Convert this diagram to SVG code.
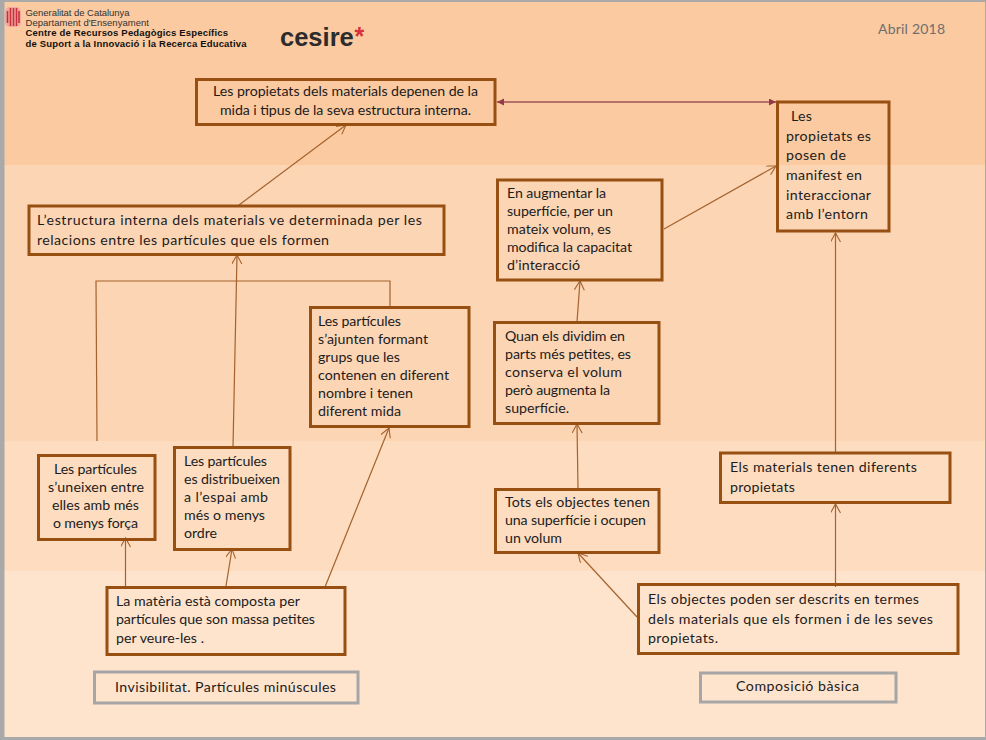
<svg xmlns="http://www.w3.org/2000/svg" width="986" height="740" viewBox="0 0 986 740">
<style>
text{font-family:"Lato","Liberation Sans",sans-serif;font-size:14.2px;fill:#1c1c1c}
.b{fill:none;stroke:#984f12;stroke-width:3}
.g{fill:none;stroke:#a6a6a6;stroke-width:3}
.c{fill:none;stroke:#a5622c;stroke-width:1.2}
.h{font-family:"Liberation Sans",Arial,sans-serif;font-size:9.5px;fill:#333}
.hb{font-family:"Liberation Sans",Arial,sans-serif;font-size:9.5px;font-weight:bold;fill:#111}
</style>
<defs>
<marker id="a" markerWidth="12" markerHeight="12" refX="10" refY="5" orient="auto" markerUnits="userSpaceOnUse"><path d="M1 0L10 5L1 10" fill="none" stroke="#a5622c" stroke-width="1.1"/></marker>
<marker id="d" markerWidth="9" markerHeight="8" refX="7" refY="3.5" orient="auto-start-reverse" markerUnits="userSpaceOnUse"><path d="M0 0L7 3.5L0 7Z" fill="#953a4a"/></marker>
</defs>
<g id="background">
<rect width="986" height="740" fill="#a9a9a9"/>
<rect x="4.500" y="2" width="980.500" height="163" fill="#fbcaa0"/>
<rect x="4.500" y="165" width="980.500" height="276" fill="#fcd5b4"/>
<rect x="4.500" y="441" width="980.500" height="130" fill="#fddcc0"/>
<rect x="4.500" y="571" width="980.500" height="166" fill="#fee3cd"/>
</g>
<g id="header">
<rect x="5" y="7" width="16" height="20" rx="5" fill="#f0a9a0"/>
<path d="M7.500 11V23M10.500 8V26M13.500 8V26M16.500 8V26M19 11V23" stroke="#c9303a" stroke-width="1.600"/>
<text class="h" x="25.500" y="16" textLength="104">Generalitat de Catalunya</text>
<text class="h" x="25.500" y="26" textLength="123.500">Departament d'Ensenyament</text>
<text class="hb" x="25.500" y="36" textLength="202.500">Centre de Recursos Pedagògics Específics</text>
<text class="hb" x="25.500" y="47" textLength="221">de Suport a la Innovació i la Recerca Educativa</text>
<text x="280" y="46" style="font-family:'Liberation Sans',sans-serif;font-size:25.500px;font-weight:bold;fill:#2c2c2c">cesire</text>
<text x="354.500" y="45" style="font-family:'Liberation Sans',sans-serif;font-size:25px;font-weight:bold;fill:#d8303a">*</text>
<text x="878" y="34" style="font-size:14px;fill:#6e6e6e" textLength="67">Abril  2018</text>
</g>
<g id="connectors">
<path class="c" d="M239 205L346 125" marker-end="url(#a)"/>
<path class="c" d="M233 447L237 255" marker-end="url(#a)"/>
<path class="c" d="M97 441L96 281H390V307"/>
<path class="c" d="M125.500 586V538" marker-end="url(#a)"/>
<path class="c" d="M226 586L232 549" marker-end="url(#a)"/>
<path class="c" d="M325 587L389 428" marker-end="url(#a)"/>
<path d="M497 102H776" fill="none" stroke="#a0505a" stroke-width="1.3" marker-start="url(#d)" marker-end="url(#d)"/>
<path class="c" d="M664 229L776 166" marker-end="url(#a)"/>
<path class="c" d="M577 322L580 281" marker-end="url(#a)"/>
<path class="c" d="M578 488L577 424" marker-end="url(#a)"/>
<path class="c" d="M637 617L578 553" marker-end="url(#a)"/>
<path class="c" d="M835.500 452V233" marker-end="url(#a)"/>
<path class="c" d="M835.500 587V504" marker-end="url(#a)"/>
</g>
<g id="n1"><rect class="b" x="196.500" y="79.500" width="298.500" height="45"/>
<text x="213" y="96" textLength="265">Les propietats dels materials depenen de la</text>
<text x="220" y="115" textLength="251">mida i tipus de la seva estructura interna.</text></g>
<g id="n2"><rect class="b" x="777.500" y="102" width="111.500" height="129"/>
<text x="791" y="121" textLength="21">Les</text>
<text x="786" y="141" textLength="85">propietats es</text>
<text x="786" y="160" textLength="60">posen de</text>
<text x="786" y="180" textLength="76">manifest en</text>
<text x="786" y="200" textLength="85">interaccionar</text>
<text x="786" y="219" textLength="82">amb l’entorn</text></g>
<g id="n3"><rect class="b" x="29" y="206" width="415" height="48.500"/>
<text x="37" y="225" textLength="385">L’estructura interna dels materials ve determinada  per les</text>
<text x="37" y="245" textLength="292">relacions entre les partícules que els formen</text></g>
<g id="n4"><rect class="b" x="497.500" y="180" width="164.500" height="100"/>
<text x="507" y="198" textLength="99">En augmentar la</text>
<text x="507" y="216" textLength="106">superfície, per un</text>
<text x="507" y="234" textLength="104">mateix volum, es</text>
<text x="507" y="252" textLength="125">modifica la capacitat</text>
<text x="507" y="270" textLength="73">d’interacció</text></g>
<g id="n5"><rect class="b" x="310.500" y="307.500" width="158.500" height="119"/>
<text x="318" y="326" textLength="83">Les partícules</text>
<text x="318" y="344" textLength="110">s’ajunten formant</text>
<text x="318" y="362" textLength="82">grups que les</text>
<text x="318" y="380" textLength="131">contenen en diferent</text>
<text x="318" y="398" textLength="95">nombre i tenen</text>
<text x="318" y="416" textLength="83">diferent mida</text></g>
<g id="n6"><rect class="b" x="494.500" y="322.500" width="164.500" height="101"/>
<text x="505" y="341" textLength="120">Quan els dividim en</text>
<text x="505" y="359" textLength="126">parts més petites, es</text>
<text x="505" y="377" textLength="117">conserva el  volum</text>
<text x="505" y="395" textLength="105">però augmenta la</text>
<text x="505" y="413" textLength="64">superfície.</text></g>
<g id="n7"><rect class="b" x="38.500" y="455.500" width="116.500" height="84"/>
<text x="54" y="474" textLength="83">Les partícules</text>
<text x="48" y="492" textLength="96">s’uneixen entre</text>
<text x="52" y="510" textLength="87">elles amb més</text>
<text x="53" y="528" textLength="85">o menys força</text></g>
<g id="n8"><rect class="b" x="174.500" y="447.500" width="115.500" height="102"/>
<text x="184" y="466" textLength="83">Les partícules</text>
<text x="184" y="484" textLength="96">es distribueixen</text>
<text x="184" y="502" textLength="84">a l’espai  amb</text>
<text x="184" y="520" textLength="81">més o menys</text>
<text x="184" y="538" textLength="33">ordre</text></g>
<g id="n9"><rect class="b" x="495.500" y="489.500" width="163.500" height="63"/>
<text x="505" y="507" textLength="145">Tots els  objectes tenen</text>
<text x="505" y="525" textLength="141">una superfície i ocupen</text>
<text x="505" y="543" textLength="57">un volum</text></g>
<g id="n10"><rect class="b" x="720.500" y="453" width="229.500" height="49.500"/>
<text x="730" y="472" textLength="187">Els materials tenen  diferents</text>
<text x="730" y="492" textLength="65">propietats</text></g>
<g id="n11"><rect class="b" x="107" y="587.500" width="238" height="67"/>
<text x="116" y="606" textLength="184">La matèria  està composta per</text>
<text x="116" y="624" textLength="199">partícules que son massa petites</text>
<text x="116" y="643" textLength="88">per veure-les .</text></g>
<g id="n12"><rect class="b" x="638.500" y="584.500" width="319.500" height="69"/>
<text x="648" y="604" textLength="271">Els objectes  poden  ser descrits en termes</text>
<text x="648" y="624" textLength="285">dels materials que  els formen  i de les seves</text>
<text x="648" y="643" textLength="70">propietats.</text></g>
<g id="n13"><rect class="g" x="94.500" y="672" width="263.500" height="31"/>
<text x="115" y="692" textLength="221">Invisibilitat. Partícules minúscules</text></g>
<g id="n14"><rect class="g" x="700.500" y="673" width="195.500" height="29"/>
<text x="736" y="691" textLength="123">Composició  bàsica</text></g>
</svg>
